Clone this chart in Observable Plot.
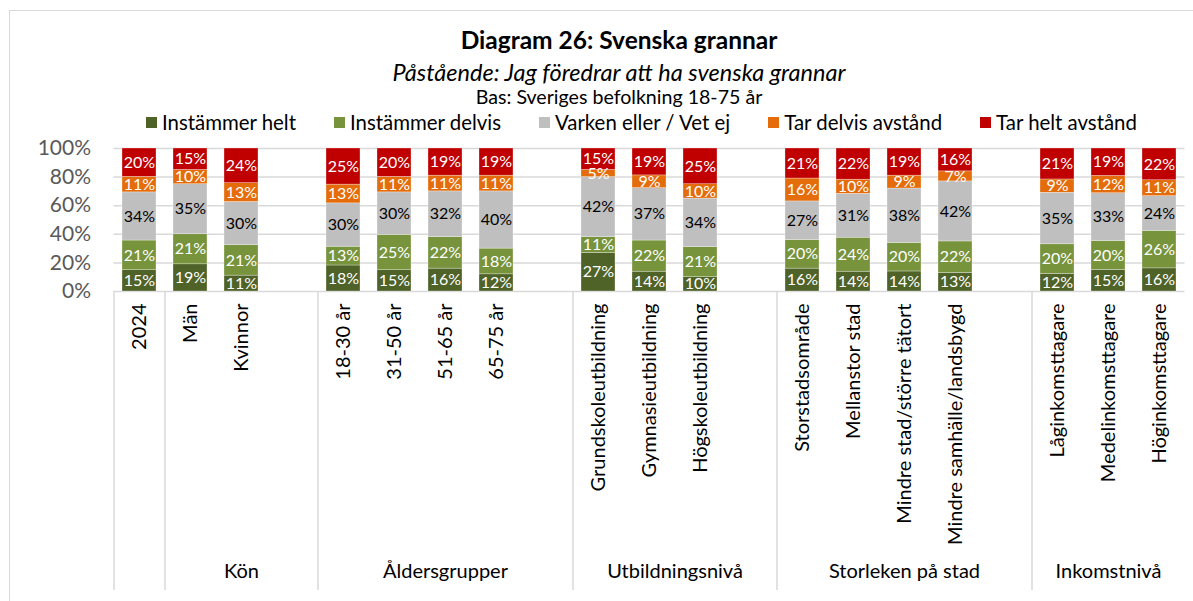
<!DOCTYPE html>
<html><head><meta charset="utf-8">
<script src="https://cdn.jsdelivr.net/npm/d3@7"></script>
<script src="https://cdn.jsdelivr.net/npm/@observablehq/plot@0.6"></script>
<style>
body{margin:0;background:#fff;font-family:Lato,"Noto Sans",sans-serif;}
#wrap{position:relative;width:1193px;height:601px;overflow:hidden;background:#fff}
#frame{position:absolute;left:9px;top:10px;width:1300px;height:700px;border:1.5px solid #d9d9d9;box-sizing:border-box}
.t{position:absolute;left:0;width:1238px;text-align:center;white-space:nowrap;color:#000}
#title{top:25px;font-size:24.5px;font-weight:bold;line-height:30px}
#subtitle{top:58px;font-size:23.5px;font-style:italic;line-height:28px}
#bas{top:86px;font-size:19.6px;line-height:22px}
#legend{position:absolute;top:110px;left:146px;display:flex;gap:38px;font-size:20.4px;line-height:24px;white-space:nowrap}
.item{display:flex;align-items:center}
.sw{width:11px;height:11px;margin-right:5px}
#chart{position:absolute;left:0;top:0}
</style></head>
<body><div id="wrap"><div id="frame"></div><div id="chart"></div>
<div class="t" id="title"></div><div class="t" id="subtitle"></div><div class="t" id="bas"></div>
<div id="legend"></div></div>
<script>
const titleText = "Diagram 26: Svenska grannar";
const subtitleText = "Påstående: Jag föredrar att ha svenska grannar";
const basText = "Bas: Sveriges befolkning 18-75 år";

const categories = ["2024","Män","Kvinnor","18-30 år","31-50 år","51-65 år","65-75 år",
  "Grundskoleutbildning","Gymnasieutbildning","Högskoleutbildning",
  "Storstadsområde","Mellanstor stad","Mindre stad/större tätort","Mindre samhälle/landsbygd",
  "Låginkomsttagare","Medelinkomsttagare","Höginkomsttagare"];
const categoryGroup = ["","Kön","Kön","Åldersgrupper","Åldersgrupper","Åldersgrupper","Åldersgrupper",
  "Utbildningsnivå","Utbildningsnivå","Utbildningsnivå",
  "Storleken på stad","Storleken på stad","Storleken på stad","Storleken på stad",
  "Inkomstnivå","Inkomstnivå","Inkomstnivå"];
const groups = ["","Kön","Åldersgrupper","Utbildningsnivå","Storleken på stad","Inkomstnivå"];

const seriesNames = ["Instämmer helt","Instämmer delvis","Varken eller / Vet ej","Tar delvis avstånd","Tar helt avstånd"];
const instammerHelt   = [15,19,11,18,15,16,12,27,14,10,16,14,14,13,12,15,16];
const instammerDelvis = [21,21,21,13,25,22,18,11,22,21,20,24,20,22,20,20,26];
const varkenVetEj     = [34,35,30,30,30,32,40,42,37,34,27,31,38,42,35,33,24];
const tarDelvis       = [11,10,13,13,11,11,11, 5, 9,10,16,10, 9, 7, 9,12,11];
const tarHelt         = [20,15,24,25,20,19,19,15,19,25,21,22,19,16,21,19,22];
const seriesValues = [instammerHelt,instammerDelvis,varkenVetEj,tarDelvis,tarHelt];
const colors = ["#4f6228","#77933c","#bfbfbf","#e46c0a","#c00000"];
const yTicks = [0,0.2,0.4,0.6,0.8,1];

// layout constants (pixels)
const W = 1193, H = 601, mTop = 148, mBottom = 310, mLeft = 113.5, mRight = 8.5;
const axisBottomPx = 590, groupLabelPx = 577;

// slots: categories plus an empty slot after each inner group
const slots = [];
const groupInfo = [];
groups.forEach((g, gi) => {
  const start = slots.length;
  categories.forEach((c, i) => { if (categoryGroup[i] === g) slots.push(c); });
  if (gi > 0 && gi < groups.length - 1) slots.push("gap" + gi);
  groupInfo.push({name: g, start, end: slots.length - 1, first: slots[start]});
});
const step = (W - mLeft - mRight) / slots.length;
const isGap = d => d.startsWith("gap");

const rows = [];
categories.forEach((c, i) => seriesNames.forEach((s, si) => rows.push({category: c, series: s, value: seriesValues[si][i]})));

const yPerUnit = (H - mBottom - mTop);
const yAxisBottom = -(axisBottomPx - (H - mBottom)) / yPerUnit;

const groupMarks = groupInfo.filter(g => g.name).map(g => {
  const c = (g.start + g.end) / 2;
  const k = Math.floor(c);
  return Plot.text([g.name], {x: () => slots[k], dx: (c - k) * step, frameAnchor: "bottom",
    dy: groupLabelPx - (H - mBottom), fontSize: 20, fill: "#000", text: d => d});
});

const grayName = seriesNames[2];
const chart = Plot.plot({
  width: W, height: H, marginTop: mTop, marginBottom: mBottom, marginLeft: mLeft, marginRight: mRight,
  style: {fontFamily: "Lato, 'Noto Sans', sans-serif", background: "transparent", overflow: "visible"},
  x: {domain: slots, paddingInner: 0.34, paddingOuter: 0.17, axis: null},
  y: {domain: [0, 1], axis: null},
  color: {domain: seriesNames, range: colors},
  marks: [
    Plot.gridY(yTicks, {stroke: "#d9d9d9", strokeOpacity: 1, strokeWidth: 1.5}),
    Plot.axisY(yTicks, {tickSize: 0, tickPadding: 23, tickFormat: d => Math.round(d * 100) + "%", fontSize: 21, fill: "#595959", label: null}),
    Plot.barY(rows, Plot.stackY({offset: "normalize", x: "category", y: "value", fill: "series", stroke: "#fff", strokeWidth: 0.5, strokeOpacity: 0.6})),
    Plot.text(rows, Plot.stackY({offset: "normalize", x: "category", y: "value", z: "series",
      text: d => d.series === grayName ? "" : d.value + "%", fill: "#fff", fontSize: 16})),
    Plot.text(rows, Plot.stackY({offset: "normalize", x: "category", y: "value", z: "series",
      text: d => d.series === grayName ? d.value + "%" : "", fill: "#000", fontSize: 16})),
    Plot.axisX({tickSize: 0, tickRotate: -90, tickPadding: 12, tickFormat: d => isGap(d) ? "" : d, fontSize: 20, fill: "#000", label: null}),
    Plot.ruleX(groupInfo, {x: "first", dx: -step / 2, y1: 0, y2: yAxisBottom, stroke: "#d9d9d9", strokeWidth: 1.5}),
    ...groupMarks
  ]
});
document.getElementById("chart").appendChild(chart);
document.getElementById("title").textContent = titleText;
document.getElementById("subtitle").textContent = subtitleText;
document.getElementById("bas").textContent = basText;
const leg = document.getElementById("legend");
seriesNames.forEach((s, i) => {
  const it = document.createElement("div"); it.className = "item";
  const sw = document.createElement("div"); sw.className = "sw"; sw.style.background = colors[i];
  const tx = document.createElement("span"); tx.textContent = s;
  it.appendChild(sw); it.appendChild(tx); leg.appendChild(it);
});
</script></body></html>
